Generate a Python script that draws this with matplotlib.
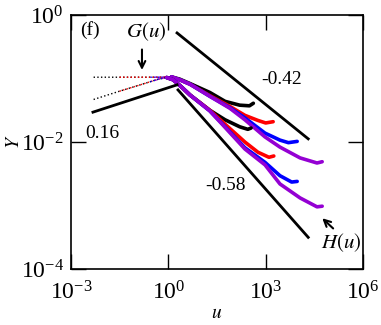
import numpy as np
import matplotlib
matplotlib.use('Agg')
import matplotlib.pyplot as plt
from matplotlib.ticker import LogFormatterMathtext, NullLocator

plt.rcParams['font.family'] = ['Liberation Serif', 'DejaVu Serif']
plt.rcParams['mathtext.fontset'] = 'stix'

# log10(u), log10(Y)
# upper family G(u)
g_black_lu = [-2.3, -1.5, -0.8, -0.2, 0.1, 0.35, 0.67, 1.28, 1.75, 2.2, 2.5, 2.62]
g_black_ly = [-0.98, -0.98, -0.98, -0.98, -0.975, -1.01, -1.08, -1.22, -1.36, -1.42, -1.43, -1.39]
g_red_lu = [-1.5, -0.8, -0.2, 0.1, 0.35, 0.67, 1.28, 1.9, 2.36, 2.76, 3.0, 3.23]
g_red_ly = [-0.98, -0.98, -0.98, -0.975, -1.02, -1.09, -1.27, -1.44, -1.58, -1.66, -1.70, -1.68]
g_blue_lu = [-0.55, -0.2, 0.1, 0.35, 0.67, 1.28, 1.9, 2.36, 2.98, 3.44, 3.7, 3.97]
g_blue_ly = [-0.98, -0.98, -0.975, -1.02, -1.09, -1.28, -1.46, -1.62, -1.86, -1.97, -2.01, -1.99]
g_purple_lu = [-0.4, -0.2, 0.1, 0.35, 0.67, 1.28, 1.9, 2.36, 2.98, 3.44, 4.06, 4.58, 4.74]
g_purple_ly = [-0.98, -0.98, -0.975, -1.02, -1.09, -1.28, -1.47, -1.65, -1.92, -2.08, -2.25, -2.33, -2.31]

# lower family H(u)
h_black_lu = [-2.3, -1.5, -0.8, -0.3, -0.05, 0.15, 0.4, 0.67, 1.28, 1.75, 2.2, 2.45, 2.55]
h_black_ly = [-1.33, -1.20, -1.09, -1.01, -0.985, -1.02, -1.13, -1.26, -1.50, -1.65, -1.76, -1.80, -1.78]
h_red_lu = [-1.5, -0.8, -0.3, -0.05, 0.15, 0.4, 0.67, 1.28, 1.75, 2.36, 2.76, 3.1, 3.25]
h_red_ly = [-1.20, -1.09, -1.01, -0.985, -1.02, -1.13, -1.26, -1.50, -1.72, -2.0, -2.16, -2.24, -2.22]
h_blue_lu = [-0.55, -0.3, -0.05, 0.15, 0.4, 0.67, 1.28, 1.75, 2.36, 2.98, 3.44, 3.8, 3.97]
h_blue_ly = [-1.05, -1.01, -0.985, -1.02, -1.13, -1.26, -1.51, -1.76, -2.09, -2.32, -2.53, -2.63, -2.62]
h_purple_lu = [-0.4, -0.3, -0.05, 0.15, 0.4, 0.67, 1.28, 1.75, 2.36, 2.98, 3.44, 4.06, 4.58, 4.74]
h_purple_ly = [-1.03, -1.01, -0.985, -1.02, -1.13, -1.26, -1.51, -1.77, -2.11, -2.36, -2.66, -2.88, -3.02, -3.01]

# guide lines (log10 u, log10 Y end points)
slope016_lu = [-2.32, 0.27]
slope016_ly = [-1.53, -1.10]
slope042_lu = [0.27, 4.31]
slope042_ly = [-0.283, -1.95]
slope058_lu = [0.30, 4.31]
slope058_ly = [-1.18, -3.50]

colors = {'black': 'black', 'red': '#ff0000', 'blue': '#0000ff', 'purple': '#9400d3'}

fig = plt.figure(figsize=(3.81, 3.25), dpi=100)
ax = fig.add_axes([0.186, 0.172, 0.767, 0.782])


def draw(lu, ly, c, split):
    u = 10 ** np.array(lu)
    y = 10 ** np.array(ly)
    m = np.array(lu) <= split
    ax.plot(u[m], y[m], ls=':', lw=1.0, color=c)
    k = max(m.sum() - 1, 0)
    ax.plot(u[k:], y[k:], ls='-', lw=2.6, color=c, solid_capstyle='round',
            solid_joinstyle='round')


for name, lu, ly in [('black', g_black_lu, g_black_ly), ('red', g_red_lu, g_red_ly),
                     ('blue', g_blue_lu, g_blue_ly), ('purple', g_purple_lu, g_purple_ly)]:
    draw(lu, ly, colors[name], 0.1)
for name, lu, ly in [('black', h_black_lu, h_black_ly), ('red', h_red_lu, h_red_ly),
                     ('blue', h_blue_lu, h_blue_ly), ('purple', h_purple_lu, h_purple_ly)]:
    draw(lu, ly, colors[name], -0.05)

for lu, ly in [(slope016_lu, slope016_ly), (slope042_lu, slope042_ly), (slope058_lu, slope058_ly)]:
    ax.plot(10 ** np.array(lu), 10 ** np.array(ly), color='black', lw=2.0)

ax.set_xscale('log')
ax.set_yscale('log')
ax.set_xlim(1e-3, 1e6)
ax.set_ylim(1e-4, 1e0)
ax.set_xticks([1e-3, 1e0, 1e3, 1e6])
ax.set_yticks([1e-4, 1e-2, 1e0])
ax.xaxis.set_minor_locator(NullLocator())
ax.yaxis.set_minor_locator(NullLocator())
ax.xaxis.set_major_formatter(LogFormatterMathtext())
ax.yaxis.set_major_formatter(LogFormatterMathtext())
ax.tick_params(direction='in', length=11, width=1.0, top=True, right=True, labelsize=17)
ax.tick_params(axis='x', pad=9)
ax.tick_params(axis='y', pad=5)
for s in ax.spines.values():
    s.set_linewidth(1.2)

ax.set_xlabel('$u$', fontsize=14, va='center')
ax.set_ylabel('$Y$', fontsize=14)
ax.xaxis.set_label_coords(0.5, -0.175)
ax.yaxis.set_label_coords(-0.165, 0.5)

ax.text(0.03, 0.975, '(f)', transform=ax.transAxes, fontsize=14, va='top', ha='left')
ax.text(10 ** -0.69, 10 ** -0.27, '$G(u)$', fontsize=15, ha='center', va='center')
ax.annotate('', xy=(10 ** -0.81, 10 ** -0.91), xytext=(10 ** -0.81, 10 ** -0.5),
            arrowprops=dict(arrowstyle='->', lw=1.5, color='black', mutation_scale=12))
ax.text(10 ** 5.32, 10 ** -3.59, '$H(u)$', fontsize=15, ha='center', va='center')
ax.annotate('', xy=(10 ** 4.68, 10 ** -3.17), xytext=(10 ** 5.14, 10 ** -3.39),
            arrowprops=dict(arrowstyle='->', lw=1.5, color='black', mutation_scale=12))
ax.text(10 ** 3.5, 10 ** -1.02, '-0.42', fontsize=14, ha='center', va='center')
ax.text(10 ** 1.75, 10 ** -2.68, '-0.58', fontsize=14, ha='center', va='center')
ax.text(10 ** -2.04, 10 ** -1.86, '0.16', fontsize=14, ha='center', va='center')

fig.savefig('out.png', dpi=100)
